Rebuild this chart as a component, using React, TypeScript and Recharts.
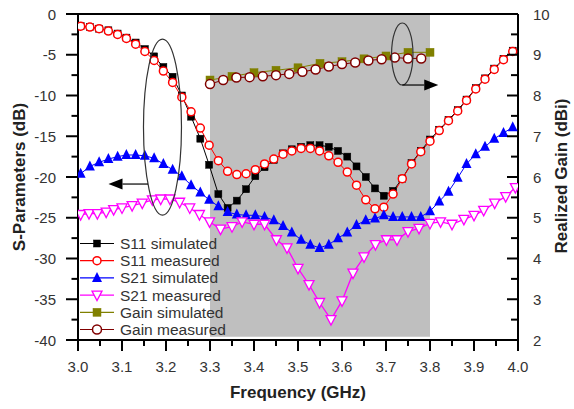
import React from "react";
import { LineChart, Line, XAxis, YAxis, ReferenceArea, ReferenceLine, ReferenceDot } from "recharts";

// marker grid shared by S11 sim / S11 meas / S21 sim
const freq = [3.006, 3.027, 3.048, 3.069, 3.090, 3.110, 3.131, 3.152, 3.173, 3.194,
  3.215, 3.236, 3.257, 3.278, 3.298, 3.319, 3.340, 3.361, 3.382, 3.403,
  3.424, 3.445, 3.466, 3.486, 3.507, 3.528, 3.549, 3.570, 3.591, 3.612,
  3.633, 3.654, 3.675, 3.695, 3.716, 3.737, 3.758, 3.779, 3.800, 3.821,
  3.842, 3.863, 3.883, 3.904, 3.925, 3.946, 3.967, 3.988];

const s11Sim = [-1.5, -1.6, -1.8, -2.0, -2.4, -2.9, -3.5, -4.3, -5.2, -6.5,
  -7.7, -10.0, -12.6, -15.3, -18.5, -22.1, -23.8, -22.9, -21.5, -19.9,
  -18.8, -17.9, -17.1, -16.6, -16.3, -16.1, -16.1, -16.3, -16.8, -17.5,
  -18.7, -20.0, -21.4, -22.3, -21.7, -20.2, -18.3, -16.8, -15.4, -14.2,
  -13.0, -11.8, -10.5, -9.1, -7.9, -6.7, -5.5, -4.5];

const s11Meas = [-1.5, -1.6, -1.8, -2.1, -2.5, -3.0, -3.7, -4.6, -5.7, -7.0,
  -8.4, -10.2, -12.0, -14.0, -16.1, -18.0, -19.3, -19.7, -19.6, -19.1,
  -18.4, -17.8, -17.2, -16.8, -16.5, -16.5, -16.8, -17.4, -18.2, -19.4,
  -21.0, -22.8, -23.9, -23.7, -22.1, -20.2, -18.4, -16.9, -15.6, -14.3,
  -13.1, -11.9, -10.6, -9.2, -8.0, -6.8, -5.6, -4.6];

const s21Sim = [-19.6, -18.7, -18.2, -17.8, -17.5, -17.3, -17.3, -17.4, -17.7, -18.4,
  -19.1, -19.9, -21.0, -21.9, -22.8, -23.6, -24.3, -24.6, -24.7, -24.7,
  -24.9, -25.3, -26.0, -26.8, -27.7, -28.3, -28.7, -28.3, -27.5, -26.8,
  -25.9, -25.3, -25.1, -24.7, -24.9, -24.9, -24.9, -24.9, -24.2, -23.0,
  -21.8, -20.1, -18.4, -17.2, -16.3, -15.3, -14.6, -13.9];

const s21MeasFreq = [3.006, 3.025, 3.044, 3.064, 3.081, 3.100, 3.123, 3.146, 3.169, 3.188,
  3.209, 3.231, 3.254, 3.276, 3.299, 3.324, 3.350, 3.373, 3.400, 3.424,
  3.451, 3.475, 3.500, 3.525, 3.549, 3.575, 3.600, 3.625, 3.650, 3.676,
  3.701, 3.725, 3.750, 3.775, 3.800, 3.824, 3.850, 3.877, 3.900, 3.922,
  3.947, 3.972, 3.994];
const s21Meas = [-24.6, -24.5, -24.5, -24.3, -24.0, -23.8, -23.5, -23.2, -22.8, -22.7,
  -22.7, -23.1, -23.8, -24.6, -25.5, -26.4, -26.1, -25.5, -25.8, -25.8,
  -27.7, -28.7, -31.2, -33.2, -35.4, -37.5, -35.2, -31.8, -29.8, -28.3,
  -27.7, -27.7, -26.7, -26.3, -25.7, -25.5, -25.8, -25.2, -24.7, -24.1,
  -23.2, -22.4, -21.3];

const gainSimFreq = [3.30, 3.35, 3.40, 3.45, 3.50, 3.55, 3.60, 3.65, 3.70, 3.75, 3.80];
const gainSim = [8.38, 8.47, 8.56, 8.62, 8.68, 8.79, 8.83, 8.90, 8.97, 9.06, 9.06];

const gainMeasFreq = [3.30, 3.33, 3.36, 3.39, 3.42, 3.45, 3.48, 3.51, 3.54, 3.57, 3.60, 3.63, 3.66, 3.69, 3.72, 3.75, 3.78];
const gainMeas = [8.28, 8.38, 8.44, 8.45, 8.47, 8.50, 8.53, 8.58, 8.64, 8.71, 8.77, 8.81, 8.86, 8.89, 8.93, 8.91, 8.91];

const xTicks = [3.0, 3.05, 3.1, 3.15, 3.2, 3.25, 3.3, 3.35, 3.4, 3.45, 3.5, 3.55, 3.6, 3.65, 3.7, 3.75, 3.8, 3.85, 3.9, 3.95, 4.0];
const leftTicks = [0, -2.5, -5, -7.5, -10, -12.5, -15, -17.5, -20, -22.5, -25, -27.5, -30, -32.5, -35, -37.5, -40];
const rightTicks = [10, 9.5, 9, 8.5, 8, 7.5, 7, 6.5, 6, 5.5, 5, 4.5, 4, 3.5, 3, 2.5, 2];

const legendItems = ["S11 simulated", "S11 measured", "S21 simulated", "S21 measured", "Gain simulated", "Gain measured"];

const FONT = "'Liberation Sans', Arial, sans-serif";
const TICK_COLOR = "#333";

const pairs = (fs: number[], vs: number[]) => fs.map((f, i) => ({ f, v: vs[i] }));

const isWhole = (v: number, step: number) => Math.abs(v / step - Math.round(v / step)) < 1e-6;

const square = (color: string, s: number) => (p: any) => (
  <rect key={p.index} x={p.cx - s / 2} y={p.cy - s / 2} width={s} height={s} fill={color} stroke={color} strokeWidth={0.5} />
);
const circle = (color: string, r: number) => (p: any) => (
  <circle key={p.index} cx={p.cx} cy={p.cy} r={r} fill="#fff" stroke={color} strokeWidth={1.5} />
);
const triUp = (color: string, s: number) => (p: any) => (
  <path key={p.index} d={`M${p.cx},${p.cy - s * 0.6}L${p.cx + s / 2},${p.cy + s * 0.4}L${p.cx - s / 2},${p.cy + s * 0.4}Z`} fill={color} />
);
const triDown = (color: string, s: number) => (p: any) => (
  <path key={p.index} d={`M${p.cx - s / 2},${p.cy - s * 0.4}L${p.cx + s / 2},${p.cy - s * 0.4}L${p.cx},${p.cy + s * 0.55}Z`} fill="#fff" stroke={color} strokeWidth={1.3} />
);

const XTick = (p: any) => {
  const v = p.payload.value;
  const major = isWhole(v, 0.1);
  return (
    <g>
      <line x1={p.x} y1={p.y} x2={p.x} y2={p.y + (major ? 11 : 6)} stroke="#000" strokeWidth={2} />
      {major && (
        <text x={p.x} y={p.y + 26} textAnchor="middle" dominantBaseline="central" fontSize={15} fill={TICK_COLOR} fontFamily={FONT}>
          {v.toFixed(1)}
        </text>
      )}
    </g>
  );
};

const LeftTick = (p: any) => {
  const v = p.payload.value;
  const major = isWhole(v, 5);
  return (
    <g>
      <line x1={p.x - (major ? 12 : 6.5)} y1={p.y} x2={p.x} y2={p.y} stroke="#000" strokeWidth={2} />
      {major && (
        <text x={p.x - 22} y={p.y} textAnchor="end" dominantBaseline="central" fontSize={15} fill={TICK_COLOR} fontFamily={FONT}>
          {v}
        </text>
      )}
    </g>
  );
};

const RightTick = (p: any) => {
  const v = p.payload.value;
  const major = isWhole(v, 1);
  return (
    <g>
      <line x1={p.x} y1={p.y} x2={p.x - (major ? 11 : 7)} y2={p.y} stroke="#000" strokeWidth={2} />
      {major && (
        <text x={p.x + 15} y={p.y} textAnchor="start" dominantBaseline="central" fontSize={15} fill={TICK_COLOR} fontFamily={FONT}>
          {v}
        </text>
      )}
    </g>
  );
};

// ellipse with a pointer arrow, drawn around a data location
const EllipseArrow = (rx: number, ry: number, dy: number, x0: number, tip: number) => (p: any) => {
  const dir = tip > x0 ? 1 : -1;
  const base = tip - dir * 14;
  return (
    <g>
      <ellipse cx={p.cx} cy={p.cy} rx={rx} ry={ry} fill="none" stroke="#333" strokeWidth={1.2} />
      <line x1={p.cx + x0} y1={p.cy + dy} x2={p.cx + base} y2={p.cy + dy} stroke="#000" strokeWidth={1.2} />
      <path d={`M${p.cx + tip},${p.cy + dy}L${p.cx + base},${p.cy + dy - 5.5}L${p.cx + base},${p.cy + dy + 5.5}Z`} fill="#000" />
    </g>
  );
};

const legendMarks = [
  { color: "#000", mark: square("#000", 7) },
  { color: "#ff0000", mark: circle("#ff0000", 4) },
  { color: "#0000ff", mark: triUp("#0000ff", 10) },
  { color: "#ff00ff", mark: triDown("#ff00ff", 10) },
  { color: "#808000", mark: square("#808000", 8) },
  { color: "#800000", mark: circle("#800000", 4.5) },
];

export default function App() {
  return (
    <div style={{ position: "absolute", left: 0, top: 0, width: 574, height: 409, background: "#fff" }}>
      <LineChart width={574} height={409} margin={{ top: 14, right: 0, bottom: 0, left: 0 }} style={{ fontFamily: FONT }}>
        <XAxis
          xAxisId="x"
          dataKey="f"
          type="number"
          domain={[3, 4]}
          ticks={xTicks}
          interval={0}
          height={69}
          tickSize={0}
          tickMargin={0}
          tickLine={false}
          tick={<XTick />}
          axisLine={{ stroke: "#000", strokeWidth: 2 }}
          allowDataOverflow
        />
        <YAxis
          yAxisId="left"
          type="number"
          domain={[-40, 0]}
          ticks={leftTicks}
          interval={0}
          width={78}
          tickSize={0}
          tickMargin={0}
          tickLine={false}
          tick={<LeftTick />}
          axisLine={{ stroke: "#000", strokeWidth: 2 }}
        />
        <YAxis
          yAxisId="right"
          orientation="right"
          type="number"
          domain={[2, 10]}
          ticks={rightTicks}
          interval={0}
          width={56}
          tickSize={0}
          tickMargin={0}
          tickLine={false}
          tick={<RightTick />}
          axisLine={{ stroke: "#000", strokeWidth: 2 }}
        />
        <ReferenceArea xAxisId="x" yAxisId="left" x1={3.3} x2={3.8} y1={-39.6} y2={0} fill="#bfbfbf" fillOpacity={1} stroke="none" />
        <ReferenceLine xAxisId="x" yAxisId="left" y={0} stroke="#000" strokeWidth={2} />

        <Line xAxisId="x" yAxisId="left" data={pairs(freq, s11Sim)} dataKey="v" stroke="#000" strokeWidth={1} dot={square("#000", 7)} activeDot={false} isAnimationActive={false} />
        <Line xAxisId="x" yAxisId="left" data={pairs(freq, s11Meas)} dataKey="v" stroke="#ff0000" strokeWidth={1} dot={circle("#ff0000", 4)} activeDot={false} isAnimationActive={false} />
        <Line xAxisId="x" yAxisId="left" data={pairs(freq, s21Sim)} dataKey="v" stroke="#0000ff" strokeWidth={1} dot={triUp("#0000ff", 10)} activeDot={false} isAnimationActive={false} />
        <Line xAxisId="x" yAxisId="left" data={pairs(s21MeasFreq, s21Meas)} dataKey="v" stroke="#ff00ff" strokeWidth={1.3} dot={triDown("#ff00ff", 10)} activeDot={false} isAnimationActive={false} />
        <Line xAxisId="x" yAxisId="right" data={pairs(gainSimFreq, gainSim)} dataKey="v" stroke="#808000" strokeWidth={1} dot={square("#808000", 8)} activeDot={false} isAnimationActive={false} />
        <Line xAxisId="x" yAxisId="right" data={pairs(gainMeasFreq, gainMeas)} dataKey="v" stroke="#800000" strokeWidth={1} dot={circle("#800000", 4.5)} activeDot={false} isAnimationActive={false} />

        <ReferenceDot xAxisId="x" yAxisId="left" x={3.192} y={-13.87} r={0} ifOverflow="visible" shape={EllipseArrow(19, 88, 57, -14.5, -54)} />
        <ReferenceDot xAxisId="x" yAxisId="left" x={3.737} y={-4.91} r={0} ifOverflow="visible" shape={EllipseArrow(10.7, 31, 31, 0, 36)} />
      </LineChart>

      <svg width={574} height={409} style={{ position: "absolute", left: 0, top: 0, pointerEvents: "none" }}>
        {legendItems.map((name, i) => {
          const y = 243.5 + i * 17.2;
          const m = legendMarks[i];
          return (
            <g key={name}>
              <line x1={80} y1={y} x2={114} y2={y} stroke={m.color} strokeWidth={1.2} />
              {m.mark({ cx: 97, cy: y, index: i })}
              <text x={120} y={y} dominantBaseline="central" fontSize={15.5} fill={TICK_COLOR} fontFamily={FONT}>{name}</text>
            </g>
          );
        })}
        <text x={19} y={177} transform="rotate(-90 19 177)" textAnchor="middle" dominantBaseline="central" fontSize={17} fontWeight="bold" fill="#222" fontFamily={FONT}>
          S-Parameters (dB)
        </text>
        <text x={561} y={176} transform="rotate(-90 561 176)" textAnchor="middle" dominantBaseline="central" fontSize={17} fontWeight="bold" fill="#222" fontFamily={FONT}>
          Realized Gain (dBi)
        </text>
        <text x={298} y={392} textAnchor="middle" dominantBaseline="central" fontSize={17} fontWeight="bold" fill="#222" fontFamily={FONT}>
          Frequency (GHz)
        </text>
      </svg>
    </div>
  );
}
